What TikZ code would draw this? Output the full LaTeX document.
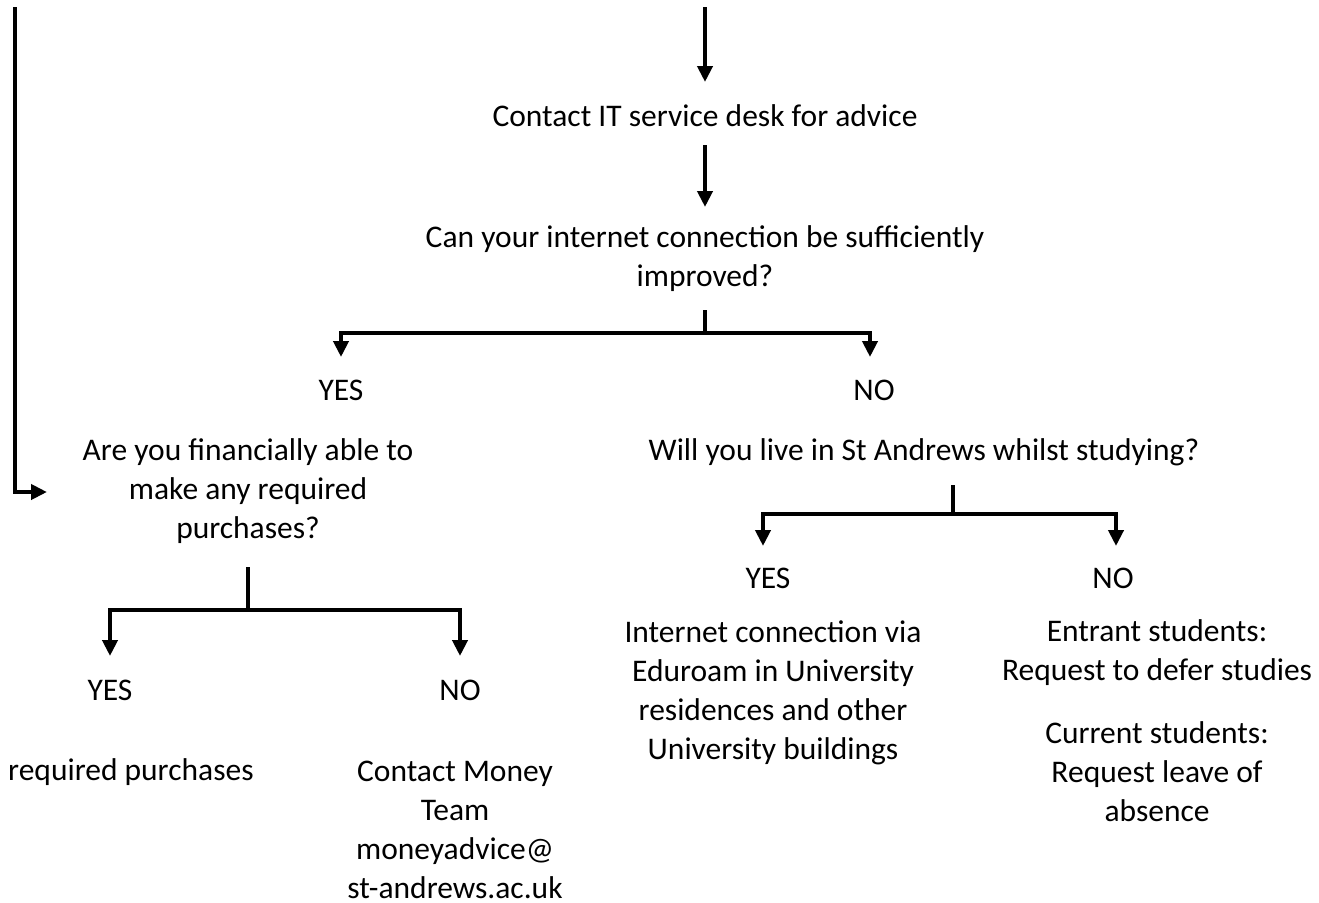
\documentclass[tikz,border=0pt]{standalone}
\usepackage{fontspec}
\setmainfont{Carlito}
\usetikzlibrary{arrows.meta}
\tikzset{
  lbl/.style={inner sep=0pt, align=center, font=\fontsize{31.5}{39}\selectfont},
  conn/.style={line width=4pt, -{Triangle[length=16pt,width=15pt]}},
  wire/.style={line width=4pt, line cap=butt},
}
\begin{document}
\begin{tikzpicture}[x=1pt,y=-1pt]
\useasboundingbox (0,0) rectangle (1319,902);
% coordinates
\coordinate (topstart) at (705,7);
\coordinate (topend) at (705,82);
\coordinate (s2) at (705,145);
\coordinate (e2) at (705,207);
\coordinate (q1s) at (705,310);
\coordinate (q1j) at (705,333);
\coordinate (q1lt) at (341,357);
\coordinate (q1rt) at (870,357);
\coordinate (loops) at (15,7);
\coordinate (loope) at (47,492);
\coordinate (q2s) at (248,567);
\coordinate (q2j) at (248,610);
\coordinate (q2lt) at (110,656);
\coordinate (q2rt) at (460,656);
\coordinate (q3s) at (953,485);
\coordinate (q3j) at (953,514);
\coordinate (q3lt) at (763,546);
\coordinate (q3rt) at (1116,546);
% nodes
\node[lbl] (it) at (705,116) {Contact IT service desk for advice};
\node[lbl] (q1) at (705,259) {Can your internet connection be sufficiently\\improved?};
\node[lbl] (yes1) at (341,390) {YES};
\node[lbl] (no1) at (874,390) {NO};
\node[lbl] (q2) at (248,491) {Are you financially able to\\make any required\\purchases?};
\node[lbl] (q3) at (924,452) {Will you live in St Andrews whilst studying?};
\node[lbl] (yes2) at (110,690) {YES};
\node[lbl] (no2) at (460,690) {NO};
\node[lbl, anchor=west] (buy) at (8,772) {required purchases};
\node[lbl] (money) at (455,830) {Contact Money\\Team\\moneyadvice@\\st-andrews.ac.uk};
\node[lbl] (yes3) at (768,578) {YES};
\node[lbl] (no3) at (1113,578) {NO};
\node[lbl] (edu) at (773,693) {Internet connection via\\Eduroam in University\\residences and other\\University buildings};
\node[lbl] (entrant) at (1157,653) {Entrant students:\\Request to defer studies};
\node[lbl] (current) at (1157,772) {Current students:\\Request leave of\\absence};
% connectors
\draw[conn] (topstart) -- (topend);
\draw[conn] (s2) -- (e2);
\draw[wire] (q1s) -- (q1j);
\draw[conn] (q1j) -| (q1lt);
\draw[conn] (q1j) -| (q1rt);
\draw[conn] (loops) |- (loope);
\draw[wire] (q2s) -- (q2j);
\draw[conn] (q2j) -| (q2lt);
\draw[conn] (q2j) -| (q2rt);
\draw[wire] (q3s) -- (q3j);
\draw[conn] (q3j) -| (q3lt);
\draw[conn] (q3j) -| (q3rt);
\end{tikzpicture}
\end{document}
